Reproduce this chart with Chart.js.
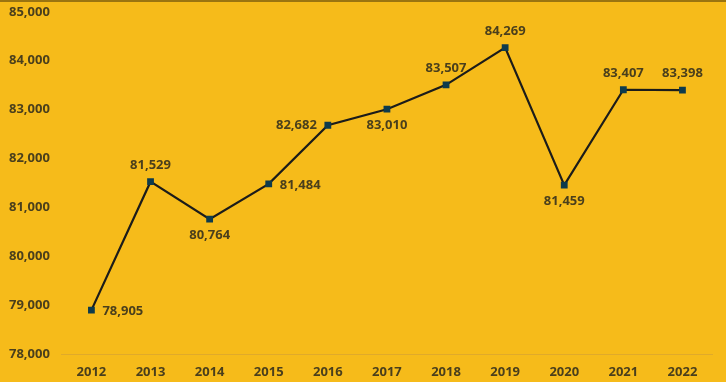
<!DOCTYPE html>
<html><head><meta charset="utf-8">
<script src="https://cdn.jsdelivr.net/npm/chart.js@4"></script>
<style>
html,body{margin:0;padding:0;background:#F6BB1A;overflow:hidden;}
#wrap{width:726px;height:382px;position:relative;overflow:hidden;}
#topline{position:absolute;left:0;top:0;width:726px;height:2px;background:#9a7410;z-index:2;}
canvas{display:block;position:absolute;left:-7px;top:-8px;}
</style></head>
<body><div id="wrap"><div id="topline"></div><canvas id="c" width="733" height="398"></canvas></div>
<script>
const years = ['2012','2013','2014','2015','2016','2017','2018','2019','2020','2021','2022'];
const values = [78905, 81529, 80764, 81484, 82682, 83010, 83507, 84269, 81459, 83407, 83398];
const labelPlacement = ['right','top','bottom','right','left','bottom','top','top','bottom','top','top'];

const textColor = '#4a3f1c';
const fontFamily = '"Open Sans", sans-serif';

const labelPlugin = {
  id: 'pointLabels',
  afterDatasetsDraw(chart) {
    const ctx = chart.ctx;
    const meta = chart.getDatasetMeta(0);
    ctx.save();
    ctx.font = '700 13px ' + fontFamily;
    ctx.fillStyle = textColor;
    meta.data.forEach((pt, i) => {
      const txt = values[i].toLocaleString('en-US');
      const pos = labelPlacement[i];
      let x = pt.x, y = pt.y;
      if (pos === 'top') { ctx.textAlign = 'center'; ctx.textBaseline = 'bottom'; y -= 10; }
      else if (pos === 'bottom') { ctx.textAlign = 'center'; ctx.textBaseline = 'top'; y += 10; }
      else if (pos === 'right') { ctx.textAlign = 'left'; ctx.textBaseline = 'middle'; x += 11; y += 1; }
      else { ctx.textAlign = 'right'; ctx.textBaseline = 'middle'; x -= 11; }
      ctx.fillText(txt, x, y);
    });
    ctx.restore();
  }
};

new Chart(document.getElementById('c'), {
  type: 'line',
  data: {
    labels: years,
    datasets: [{
      data: values,
      borderColor: '#1c1c1a',
      borderWidth: 2.2,
      pointStyle: 'rect',
      pointRadius: 4.8,
      pointBackgroundColor: '#0e3b4c',
      pointBorderColor: '#0e3b4c',
      pointBorderWidth: 0,
      tension: 0
    }]
  },
  options: {
    responsive: false,
    animation: false,
    layout: { padding: { top: 4, left: 4, right: 14, bottom: 0 } },
    plugins: { legend: { display: false }, tooltip: { enabled: false } },
    scales: {
      x: {
        offset: true,
        grid: { display: false, drawTicks: false },
        border: { display: true, color: '#e0aa2a', width: 1 },
        ticks: { color: textColor, font: { family: fontFamily, size: 13, weight: '700' }, padding: 10 }
      },
      y: {
        min: 78000, max: 85000,
        grid: { display: false, drawTicks: false },
        border: { display: false },
        ticks: {
          stepSize: 1000,
          color: textColor,
          font: { family: fontFamily, size: 13, weight: '700' },
          padding: 12,
          callback: v => v.toLocaleString('en-US')
        }
      }
    }
  },
  plugins: [labelPlugin]
});
</script>
</body></html>
